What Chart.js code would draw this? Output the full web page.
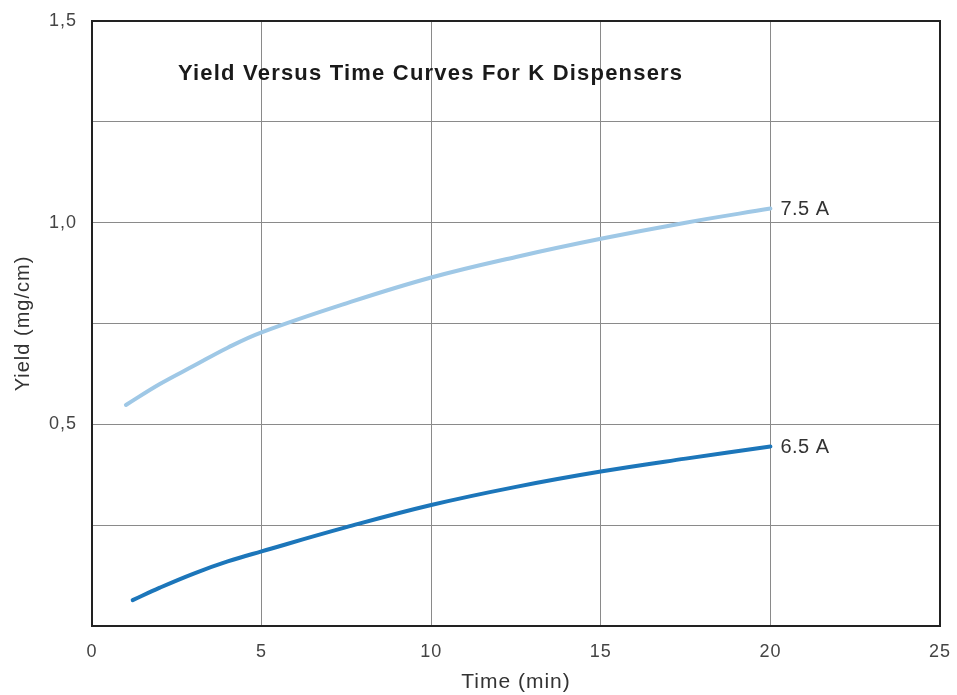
<!DOCTYPE html>
<html>
<head>
<meta charset="utf-8">
<script src="https://cdn.jsdelivr.net/npm/chart.js@4/dist/chart.umd.min.js"></script>
<style>
  html, body { margin: 0; padding: 0; background: #fff; }
  #wrap { width: 957px; height: 695px; }
</style>
</head>
<body>
<div id="wrap"><canvas id="yieldChart"></canvas></div>
<script>
const chartTitle = "Yield Versus Time Curves For K Dispensers";

// time in minutes, yield in mg/cm
const time75 = [1, 2, 3, 4, 5, 7.5, 10, 12.5, 15, 17.5, 20];
const yield75 = [0.548, 0.60, 0.645, 0.69, 0.728, 0.80, 0.864, 0.915, 0.96, 1.0, 1.035];

const time65 = [1.2, 2, 3, 4, 5, 7.5, 10, 12.5, 15, 17.5, 20];
const yield65 = [0.064, 0.095, 0.13, 0.16, 0.185, 0.245, 0.30, 0.345, 0.383, 0.415, 0.445];

const seriesNames = ["7.5 A", "6.5 A"];
const xTicks = [0, 5, 10, 15, 20, 25];
const yTicks = [0, 0.25, 0.5, 0.75, 1.0, 1.25, 1.5];

const FONT = "'Liberation Sans', Arial, sans-serif";

function toPoints(xs, ys) {
  return xs.map((x, i) => ({ x: x, y: ys[i] }));
}

const frameAndLabels = {
  id: "frameAndLabels",
  beforeDraw(chart) {
    chart.ctx.letterSpacing = "1px";
  },
  afterDatasetsDraw(chart) {
    const { ctx, chartArea: a } = chart;
    ctx.save();
    ctx.strokeStyle = "#222";
    ctx.lineWidth = 2;
    ctx.strokeRect(a.left, a.top, a.right - a.left, a.bottom - a.top);

    // title inside the plot
    ctx.fillStyle = "#1a1a1a";
    ctx.font = "bold 22px " + FONT;
    ctx.letterSpacing = "1.2px";
    ctx.textAlign = "left";
    ctx.textBaseline = "middle";
    ctx.fillText(chartTitle, 178, 74);

    // curve labels at the end of each line
    ctx.font = "20px " + FONT;
    ctx.letterSpacing = "0.5px";
    ctx.fillStyle = "#333";
    chart.data.datasets.forEach((ds, i) => {
      const meta = chart.getDatasetMeta(i);
      const last = meta.data[meta.data.length - 1];
      ctx.fillText(ds.label, last.x + 10, last.y + 1);
    });
    ctx.restore();
  }
};

new Chart(document.getElementById("yieldChart").getContext("2d"), {
  type: "line",
  data: {
    datasets: [
      {
        label: seriesNames[0],
        data: toPoints(time75, yield75),
        borderColor: "#9fc8e6",
        borderWidth: 4,
        pointRadius: 0,
        tension: 0.4,
        borderCapStyle: "round",
      },
      {
        label: seriesNames[1],
        data: toPoints(time65, yield65),
        borderColor: "#1c76ba",
        borderWidth: 4,
        pointRadius: 0,
        tension: 0.4,
        borderCapStyle: "round",
      },
    ],
  },
  options: {
    responsive: true,
    maintainAspectRatio: false,
    animation: false,
    layout: { padding: { top: 21, right: 17, left: 0, bottom: 0 } },
    plugins: {
      legend: { display: false },
      tooltip: { enabled: false },
    },
    scales: {
      x: {
        type: "linear",
        min: 0,
        max: 25,
        afterBuildTicks: (s) => { s.ticks = xTicks.map((v) => ({ value: v })); },
        afterFit: (s) => {
          s.height = 69;
          s.paddingLeft = 0;
          s.paddingRight = 0;
        },
        grid: { color: "#8a8a8a", lineWidth: 1, drawTicks: false },
        border: { display: false },
        ticks: {
          color: "#444",
          padding: 15,
          maxRotation: 0,
          font: { size: 18, family: FONT },
        },
        title: {
          display: true,
          text: "Time (min)",
          color: "#333",
          padding: { top: 0, bottom: 0 },
          font: { size: 21, family: FONT },
        },
      },
      y: {
        type: "linear",
        min: 0,
        max: 1.5,
        afterBuildTicks: (s) => { s.ticks = yTicks.map((v) => ({ value: v })); },
        afterFit: (s) => {
          s.width = 92;
          s.paddingTop = 0;
          s.paddingBottom = 0;
        },
        grid: { color: "#8a8a8a", lineWidth: 1, drawTicks: false },
        border: { display: false },
        ticks: {
          color: "#444",
          padding: 15,
          font: { size: 18, family: FONT },
          callback: (v) => {
            if (v === 0 || Math.round(v * 100) % 50 !== 0) return "";
            return v.toFixed(1).replace(".", ",");
          },
        },
        title: {
          display: true,
          text: "Yield (mg/cm)",
          color: "#333",
          padding: { top: 11, bottom: 0 },
          font: { size: 20, family: FONT },
        },
      },
    },
  },
  plugins: [frameAndLabels],
});
</script>
</body>
</html>
